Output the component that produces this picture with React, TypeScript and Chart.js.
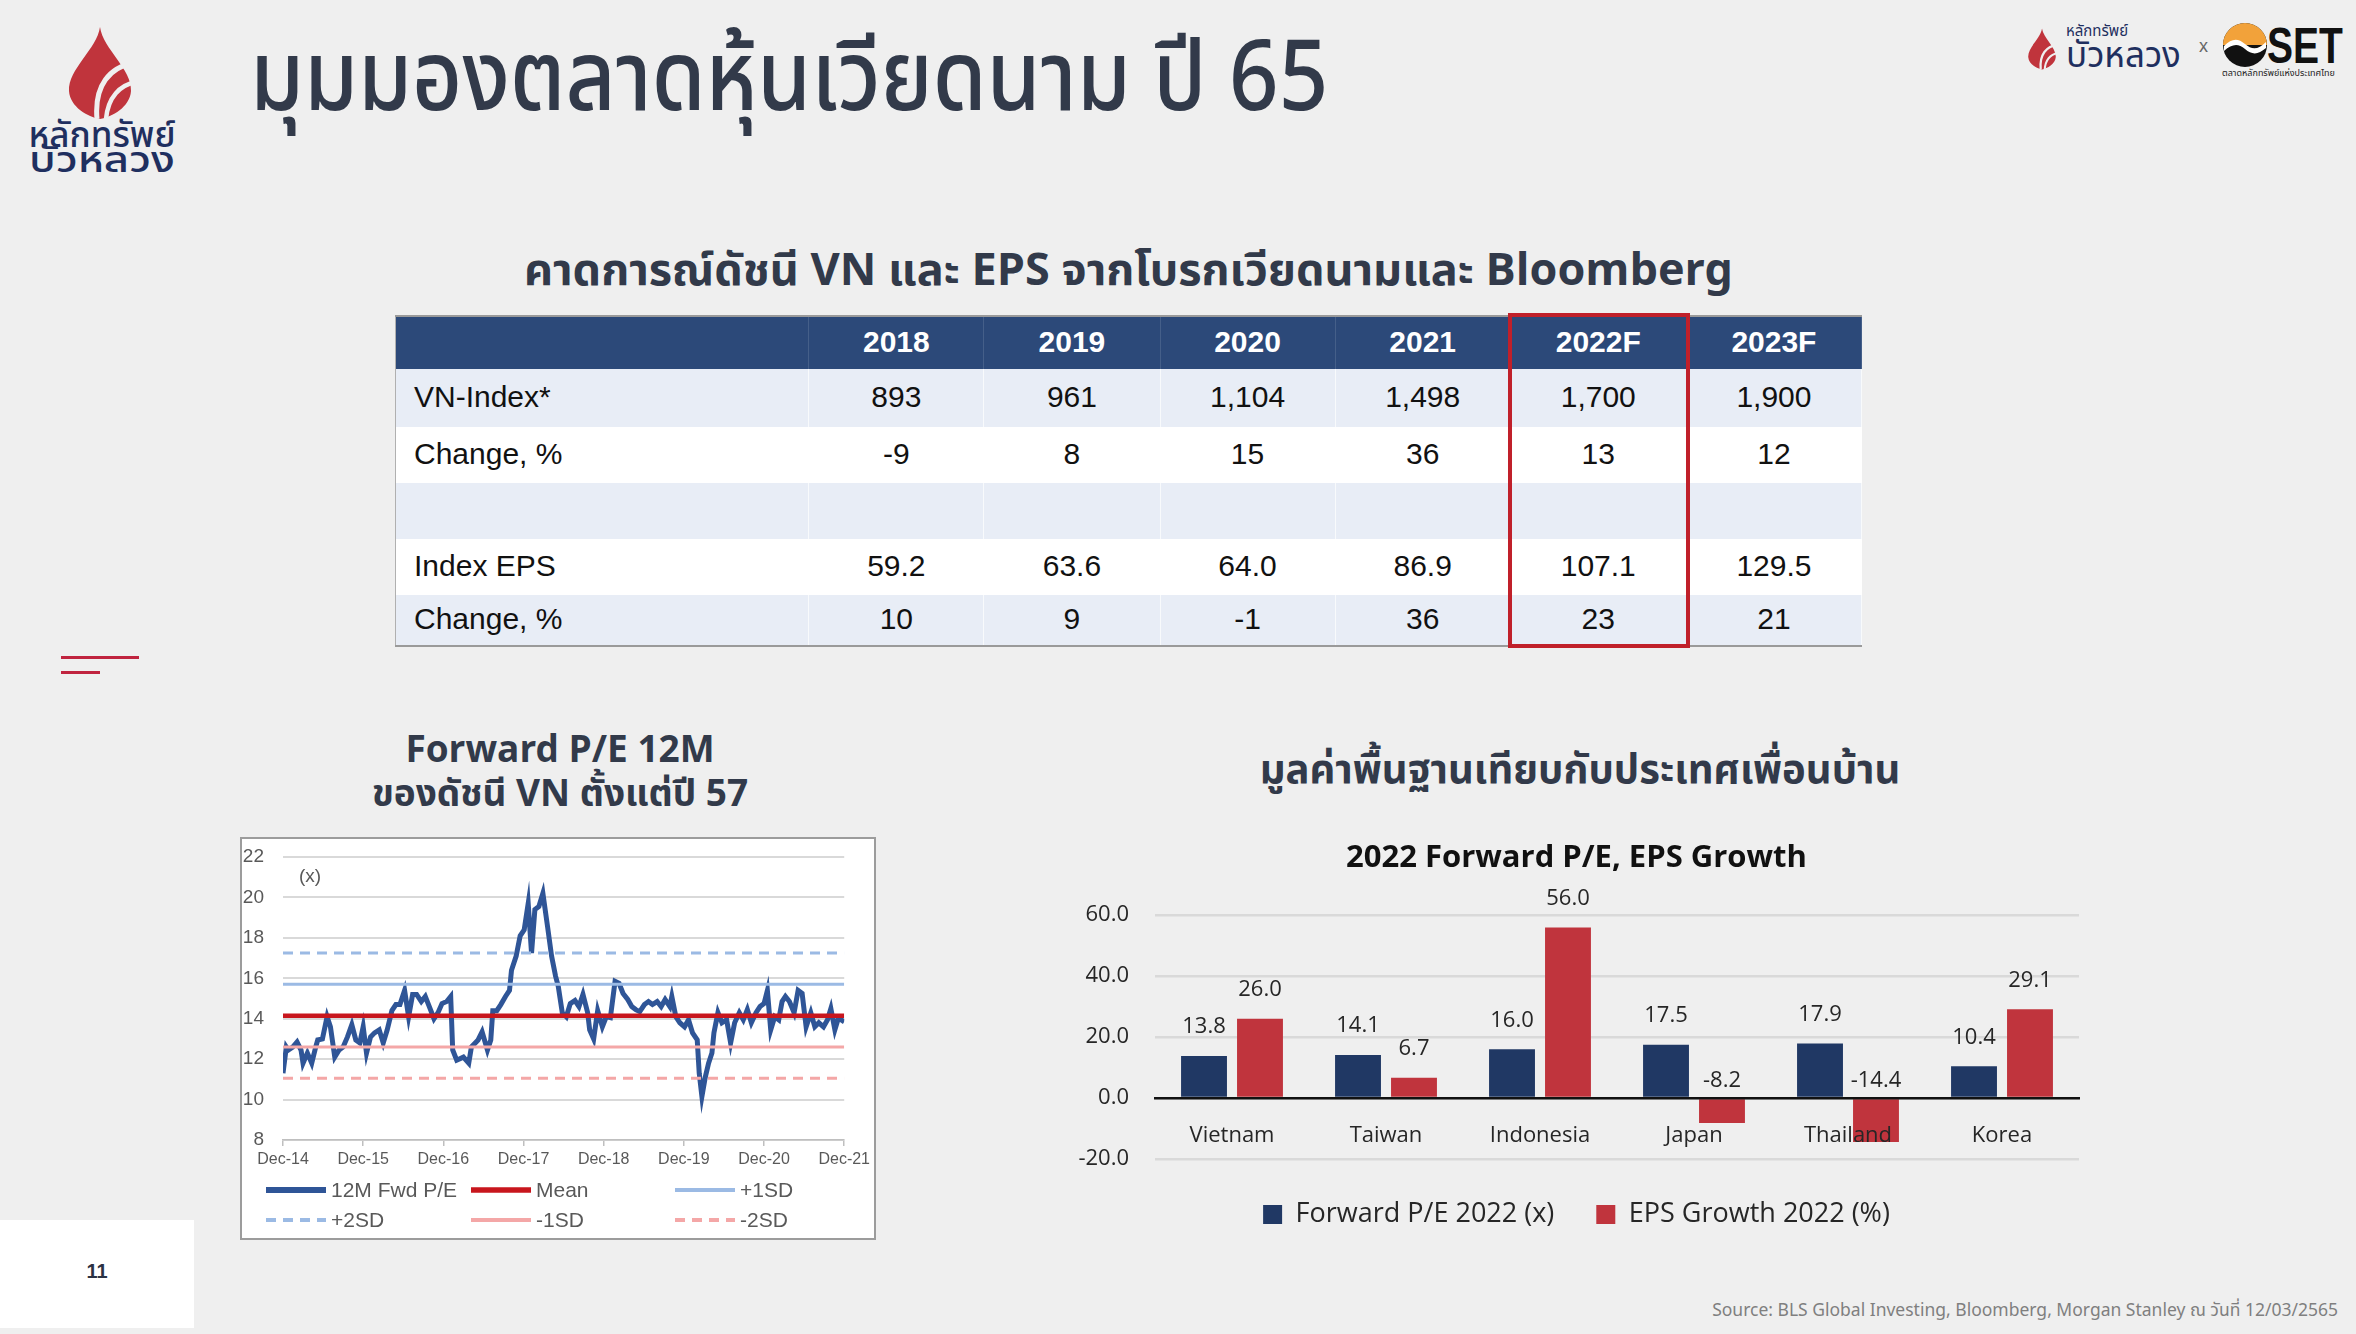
import React, { useEffect, useRef } from "react";
import { Chart, registerables } from "chart.js";

Chart.register(...registerables);

// ---------- Forecast table (VN-Index & EPS) ----------
const tableYears = ["2018", "2019", "2020", "2021", "2022F", "2023F"];
const vnIndex = [893, 961, 1104, 1498, 1700, 1900];
const vnIndexChange = [-9, 8, 15, 36, 13, 12];
const indexEps = [59.2, 63.6, 64.0, 86.9, 107.1, 129.5];
const indexEpsChange = [10, 9, -1, 36, 23, 21];

// ---------- 12M forward P/E of VN-Index (x = months since Dec-14) ----------
const peMonths = [
  0, 0.5, 0.8, 1.45, 2.1, 2.7, 3.0, 3.65, 4.3, 4.9, 5.2, 5.9, 6.6, 7.1, 7.75, 8.4, 9.0, 9.65, 10.3, 10.9,
  11.5, 12.0, 12.5, 13.1, 13.7, 14.4, 15.0, 15.6, 16.3, 16.9, 17.5, 18.2, 18.8, 19.4, 20.0, 20.7, 21.3, 21.9,
  22.6, 23.2, 23.8, 24.5, 25.1, 25.4, 26.0, 27.0, 27.8, 28.2, 29.2, 29.8, 30.6, 31.1, 31.4, 32.0, 32.6, 33.3,
  33.9, 34.2, 34.9, 35.5, 36.1, 36.7, 37.2, 37.7, 38.3, 38.9, 39.6, 40.2, 40.8, 41.2, 41.8, 42.4, 43.0, 43.7,
  44.3, 44.9, 45.6, 45.9, 46.5, 47.1, 47.8, 48.4, 49.0, 49.7, 50.3, 50.9, 51.6, 52.2, 52.8, 53.4, 54.1, 54.7,
  55.3, 56.0, 56.6, 57.2, 57.9, 58.2, 58.8, 59.4, 60.1, 60.7, 61.3, 62.0, 62.3, 62.7, 63.2, 63.7, 64.2, 64.5,
  65.1, 65.7, 66.4, 67.0, 67.6, 68.3, 68.9, 69.5, 70.1, 70.8, 71.4, 72.0, 72.5, 73.0, 73.6, 74.2, 74.7, 75.2,
  75.8, 76.5, 77.1, 77.7, 78.3, 79.0, 79.6, 80.2, 80.9, 81.5, 82.0, 82.6, 83.1, 83.5, 84.0,
];
const peValues = [
  11.3, 12.6, 12.45, 12.6, 12.85, 12.45, 11.8, 12.3, 11.8, 12.6, 12.95, 13.0, 14.1, 13.6, 12.1, 12.45, 12.6, 13.1, 13.7, 12.95,
  12.8, 13.6, 12.3, 13.1, 13.3, 13.45, 12.8, 13.45, 14.4, 14.7, 14.7, 15.4, 14.1, 15.2, 15.2, 14.85, 15.1, 14.6,
  14.0, 14.3, 14.75, 14.85, 15.1, 12.45, 11.95, 12.1, 11.8, 12.6, 12.95, 13.35, 12.45, 12.95, 14.4, 14.4, 14.7, 15.1,
  15.4, 16.4, 17.1, 18.1, 18.4, 19.7, 17.25, 19.4, 19.55, 20.2, 18.55, 17.1, 16.1, 15.6, 14.3, 14.1, 14.75, 14.9,
  14.6, 15.2, 14.3, 13.45, 13.0, 14.4, 13.6, 14.1, 14.05, 15.85, 15.75, 15.25, 14.95, 14.6, 14.45, 14.35, 14.7, 14.85,
  14.7, 14.85, 14.6, 14.95, 14.6, 15.1, 14.1, 13.8, 13.6, 13.95, 13.3, 12.95, 11.3, 10.15, 11.1, 11.8, 12.3, 13.3,
  14.3, 13.8, 13.95, 12.8, 13.8, 14.3, 13.95, 14.45, 13.8, 14.3, 14.6, 14.75, 15.4, 13.45, 14.1, 13.95, 14.85, 15.1,
  14.85, 14.3, 15.4, 15.25, 13.6, 14.3, 13.6, 13.8, 13.6, 13.95, 14.5, 13.45, 14.0, 13.95, 13.85,
];
const peMean = 14.15;
const peStd = 1.55;
const peTickLabels = ["Dec-14", "Dec-15", "Dec-16", "Dec-17", "Dec-18", "Dec-19", "Dec-20", "Dec-21"];

// ---------- 2022 forward P/E and EPS growth by market ----------
const countries = ["Vietnam", "Taiwan", "Indonesia", "Japan", "Thailand", "Korea"];
const forwardPe2022 = [13.8, 14.1, 16.0, 17.5, 17.9, 10.4];
const epsGrowth2022 = [26.0, 6.7, 56.0, -8.2, -14.4, 29.1];

const THAI = '"Noto Sans Thai", "Noto Sans Thai UI", "Kanit", "Sarabun", "Noto Sans", sans-serif';
const ARIAL = '"Liberation Sans", Arial, sans-serif';
const OPEN = '"Open Sans", "Liberation Sans", sans-serif';
const INK = "#323a4a";

function PeChart() {
  const ref = useRef<HTMLCanvasElement>(null);
  useEffect(() => {
    const lastMonth = peTickLabels.length * 12 - 12;
    const flat = (v: number) => [
      { x: 0, y: v },
      { x: lastMonth, y: v },
    ];
    const blue = "#9bbae4";
    const pink = "#f4a7a7";
    const legendPlugin = {
      id: "peLegend",
      afterDraw(chart: any) {
        const c = chart.ctx;
        const { left, top } = chart.chartArea;
        c.save();
        c.font = `19px ${ARIAL}`;
        c.fillStyle = "#595959";
        c.textBaseline = "middle";
        c.textAlign = "left";
        c.fillText("(x)", left + 16, top + 20);
        const cols = [24, 229, 433];
        const rows = [351, 381];
        chart.data.datasets.forEach((ds: any, i: number) => {
          const x0 = cols[i % 3];
          const y0 = rows[Math.floor(i / 3)];
          c.beginPath();
          c.strokeStyle = ds.borderColor;
          c.lineWidth = ds.borderWidth + 1;
          c.setLineDash(ds.borderDash || []);
          c.moveTo(x0, y0);
          c.lineTo(x0 + 60, y0);
          c.stroke();
          c.setLineDash([]);
          c.fillStyle = "#595959";
          c.font = `21px ${ARIAL}`;
          c.fillText(ds.label, x0 + 65, y0 + 1);
        });
        c.restore();
      },
    };
    const chart = new Chart(ref.current!, {
      type: "line",
      data: {
        datasets: [
          {
            label: "12M Fwd P/E",
            data: peMonths.map((m, i) => ({ x: m, y: peValues[i] })),
            borderColor: "#2f5597",
            borderWidth: 5,
            order: 9,
          },
          { label: "Mean", data: flat(peMean), borderColor: "#c8161d", borderWidth: 4.5, order: 1 },
          { label: "+1SD", data: flat(peMean + peStd), borderColor: blue, borderWidth: 3, order: 2 },
          { label: "+2SD", data: flat(peMean + 2 * peStd), borderColor: blue, borderWidth: 3, borderDash: [10, 7], order: 3 },
          { label: "-1SD", data: flat(peMean - peStd), borderColor: pink, borderWidth: 3, order: 4 },
          { label: "-2SD", data: flat(peMean - 2 * peStd), borderColor: pink, borderWidth: 3, borderDash: [10, 7], order: 5 },
        ],
      },
      options: {
        animation: false,
        responsive: false,
        elements: { point: { radius: 0 }, line: { tension: 0 } },
        layout: { padding: { left: 0, right: 29, top: 18, bottom: 0 } },
        plugins: { legend: { display: false }, tooltip: { enabled: false } },
        scales: {
          x: {
            type: "linear",
            min: 0,
            max: lastMonth,
            afterFit: (s: any) => {
              s.height = 98;
            },
            ticks: {
              stepSize: 12,
              autoSkip: false,
              maxRotation: 0,
              padding: 4,
              color: "#595959",
              font: { family: ARIAL, size: 16 },
              callback: (v: any) => peTickLabels[Math.round(Number(v) / 12)] ?? "",
            },
            grid: { drawOnChartArea: false, drawTicks: true, tickLength: 6, color: "#bfbfbf", lineWidth: 1.5 },
            border: { color: "#bfbfbf", width: 1.5 },
          },
          y: {
            min: 8,
            max: 22,
            afterFit: (s: any) => {
              s.width = 41;
              s.paddingTop = 0;
              s.paddingBottom = 0;
            },
            ticks: { stepSize: 2, padding: 19, color: "#595959", font: { family: ARIAL, size: 19 } },
            grid: { color: "#d9d9d9", lineWidth: 2, drawTicks: false },
            border: { display: false },
          },
        },
      },
      plugins: [legendPlugin],
    } as any);
    return () => chart.destroy();
  }, []);
  return <canvas ref={ref} width={632} height={399} style={{ position: "absolute", left: 0, top: 0 }} />;
}

function PeerChart() {
  const ref = useRef<HTMLCanvasElement>(null);
  useEffect(() => {
    const labelPlugin = {
      id: "barValues",
      afterDatasetsDraw(chart: any) {
        const c = chart.ctx;
        const zero = chart.scales.y.getPixelForValue(0);
        c.save();
        c.font = `22px ${OPEN}`;
        c.fillStyle = "#262626";
        c.textAlign = "center";
        c.textBaseline = "middle";
        chart.data.datasets.forEach((ds: any, di: number) => {
          chart.getDatasetMeta(di).data.forEach((el: any, i: number) => {
            const v = ds.data[i];
            const y = v >= 0 ? el.y - 29 : zero - 17;
            c.fillText(v.toFixed(1), el.x, y);
          });
        });
        c.restore();
      },
    };
    const chart = new Chart(ref.current!, {
      type: "bar",
      data: {
        labels: countries,
        datasets: [
          { label: "Forward P/E 2022 (x)", data: forwardPe2022, backgroundColor: "#203864", borderWidth: 0 },
          { label: "EPS Growth 2022 (%)", data: epsGrowth2022, backgroundColor: "#c0343d", borderWidth: 0 },
        ],
      },
      options: {
        animation: false,
        responsive: false,
        categoryPercentage: 0.727,
        barPercentage: 0.82,
        layout: { padding: { left: 9, right: 26, top: 0, bottom: 0 } },
        plugins: {
          tooltip: { enabled: false },
          title: {
            display: true,
            text: "2022 Forward P/E, EPS Growth",
            color: "#111111",
            font: { family: OPEN, size: 31, weight: "bold", lineHeight: 1.2 },
            padding: { top: 20, bottom: 38 },
          },
          legend: {
            position: "bottom",
            labels: {
              boxWidth: 19,
              boxHeight: 19,
              padding: 42,
              color: "#262626",
              font: { family: OPEN, size: 27 },
            },
          },
        },
        scales: {
          x: {
            position: { y: 0 },
            grid: { display: false, drawTicks: false },
            border: { display: true, color: "#111111", width: 2.5, z: 1 },
            ticks: { padding: 24, color: "#262626", font: { family: OPEN, size: 22 }, z: 1 },
          },
          y: {
            min: -20,
            max: 60,
            afterFit: (s: any) => {
              s.width = 81;
              s.paddingTop = 0;
              s.paddingBottom = 0;
            },
            ticks: {
              stepSize: 20,
              padding: 26,
              color: "#262626",
              font: { family: OPEN, size: 22 },
              callback: (v: any) => Number(v).toFixed(1),
            },
            grid: { color: "#d9d9d9", lineWidth: 2.5, drawTicks: false },
            border: { display: false },
          },
        },
      },
      plugins: [labelPlugin],
    } as any);
    return () => chart.destroy();
  }, []);
  return <canvas ref={ref} width={1040} height={418} style={{ position: "absolute", left: 1065, top: 820 }} />;
}

function Flame({ x, y, w, h }: { x: number; y: number; w: number; h: number }) {
  return (
    <svg style={{ position: "absolute", left: x, top: y }} width={w} height={h} viewBox="0 0 72 92">
      <path d="M36 0 C 33 22, 4 42, 5 64 C 6 80, 24 90, 36 92 C 48 90, 66 80, 67 64 C 68 42, 39 22, 36 0 Z" fill="#c0343c" />
      <path d="M70 36 C 46 40, 30 58, 33 92" stroke="#efefef" strokeWidth="5" fill="none" />
      <path d="M72 55 C 56 58, 44 70, 42 92" stroke="#efefef" strokeWidth="4.5" fill="none" />
    </svg>
  );
}

export default function App() {
  useEffect(() => {
    document.body.style.margin = "0";
  }, []);

  const rows = [
    { label: "VN-Index*", values: vnIndex.map((v) => v.toLocaleString("en-US")), bg: "#e8edf6", h: 58 },
    { label: "Change, %", values: vnIndexChange.map(String), bg: "#ffffff", h: 56 },
    { label: "", values: tableYears.map(() => ""), bg: "#e8edf6", h: 56 },
    { label: "Index EPS", values: indexEps.map((v) => v.toFixed(1)), bg: "#ffffff", h: 56 },
    { label: "Change, %", values: indexEpsChange.map(String), bg: "#e8edf6", h: 51 },
  ];
  const colW = [413, 175, 176, 175, 175, 176, 175];

  return (
    <div
      style={{
        position: "absolute",
        left: 0,
        top: 0,
        width: 2356,
        height: 1334,
        background: "#efefef",
        overflow: "hidden",
        fontFamily: ARIAL,
      }}
    >
      {/* brand mark, top left */}
      <Flame x={64} y={27} w={72} h={92} />
      <div style={{ position: "absolute", left: 12, top: 124, width: 180, textAlign: "center", color: "#1f2f5f", fontFamily: THAI, fontSize: 35, lineHeight: "26px", fontWeight: 500 }}>
        หลักทรัพย์
      </div>
      <div
        style={{
          position: "absolute",
          left: 12,
          top: 149,
          width: 180,
          textAlign: "center",
          color: "#1f2f5f",
          fontFamily: THAI,
          fontSize: 35,
          lineHeight: "26px",
          fontWeight: 500,
          transform: "scaleX(1.25)",
        }}
      >
        บัวหลวง
      </div>

      {/* page title */}
      <div
        style={{
          position: "absolute",
          left: 250,
          top: 10,
          fontFamily: THAI,
          fontSize: 98,
          fontWeight: 500,
          color: INK,
          whiteSpace: "nowrap",
          lineHeight: "140px",
          transform: "scaleX(0.885)",
          transformOrigin: "left center",
        }}
      >
        มุมมองตลาดหุ้นเวียดนาม ปี 65
      </div>

      {/* partner marks, top right */}
      <Flame x={2026} y={23} w={32} h={52} />
      <div style={{ position: "absolute", left: 2066, top: 24, color: "#1f2f5f", fontFamily: THAI, whiteSpace: "nowrap" }}>
        <div style={{ fontSize: 15, lineHeight: "16px" }}>หลักทรัพย์</div>
        <div style={{ fontSize: 35, lineHeight: "34px" }}>บัวหลวง</div>
      </div>
      <div style={{ position: "absolute", left: 2199, top: 36, fontSize: 18, color: "#666", fontFamily: ARIAL }}>x</div>
      <svg style={{ position: "absolute", left: 2222, top: 22 }} width={46} height={46} viewBox="0 0 46 46">
        <circle cx="23" cy="23" r="22" fill="#111" />
        <path d="M1 23 A22 22 0 0 1 45 23 Z" fill="#f2a23a" />
        <path d="M2 24 C 10 16, 16 16, 23 22 C 30 28, 36 28, 44 20 L 44 26 C 36 33, 30 33, 23 27 C 16 21, 10 22, 2 29 Z" fill="#ffffff" />
      </svg>
      <div
        style={{
          position: "absolute",
          left: 2267,
          top: 17,
          fontSize: 50,
          lineHeight: "58px",
          fontWeight: 700,
          color: "#111",
          fontFamily: ARIAL,
          transform: "scaleX(0.78)",
          transformOrigin: "left center",
        }}
      >
        SET
      </div>
      <div style={{ position: "absolute", left: 2222, top: 66, width: 120, fontSize: 9, color: "#222", fontFamily: THAI, whiteSpace: "nowrap", overflow: "hidden" }}>
        ตลาดหลักทรัพย์แห่งประเทศไทย
      </div>

      {/* table heading */}
      <div style={{ position: "absolute", left: 395, width: 1467, top: 240, textAlign: "center", fontFamily: THAI, fontSize: 45, fontWeight: 700, color: INK, lineHeight: "62px", whiteSpace: "nowrap" }}>
        คาดการณ์ดัชนี VN และ EPS จากโบรกเวียดนามและ Bloomberg
      </div>

      {/* forecast table */}
      <table
        style={{
          position: "absolute",
          left: 395,
          top: 315,
          borderCollapse: "collapse",
          tableLayout: "fixed",
          width: 1467,
          fontFamily: ARIAL,
          fontSize: 30,
          color: "#111",
          borderTop: "2px solid #9a9a9a",
          borderBottom: "2px solid #9a9a9a",
          borderLeft: "1px solid #b0b0b0",
          borderRight: "1px solid #b0b0b0",
        }}
      >
        <colgroup>
          {colW.map((w, i) => (
            <col key={i} style={{ width: w }} />
          ))}
        </colgroup>
        <tbody>
          <tr style={{ height: 53, background: "#2c4979", color: "#fff", fontWeight: 700 }}>
            <td style={{ padding: 0, borderRight: "1px solid rgba(255,255,255,0.12)" }} />
            {tableYears.map((y) => (
              <td key={y} style={{ padding: "0 0 3px 0", textAlign: "center", borderRight: "1px solid rgba(255,255,255,0.12)" }}>
                {y}
              </td>
            ))}
          </tr>
          {rows.map((r, ri) => (
            <tr key={ri} style={{ height: r.h, background: r.bg }}>
              <td style={{ padding: "0 0 2px 18px", borderRight: "1px solid rgba(255,255,255,0.7)" }}>{r.label}</td>
              {r.values.map((v, ci) => (
                <td key={ci} style={{ padding: "0 0 2px 0", textAlign: "center", borderRight: "1px solid rgba(255,255,255,0.7)" }}>
                  {v}
                </td>
              ))}
            </tr>
          ))}
        </tbody>
      </table>
      <div style={{ position: "absolute", left: 1508, top: 313, width: 182, height: 335, border: "4px solid #c0202a", boxSizing: "border-box" }} />

      {/* side accent */}
      <div style={{ position: "absolute", left: 61, top: 656, width: 78, height: 3, background: "#c0243f" }} />
      <div style={{ position: "absolute", left: 61, top: 671, width: 39, height: 3, background: "#c0243f" }} />

      {/* P/E history */}
      <div style={{ position: "absolute", left: 330, width: 460, top: 729, textAlign: "center", fontFamily: THAI, fontSize: 37, fontWeight: 700, color: INK, lineHeight: "44px", whiteSpace: "nowrap" }}>
        Forward P/E 12M
        <br />
        ของดัชนี VN ตั้งแต่ปี 57
      </div>
      <div style={{ position: "absolute", left: 240, top: 837, width: 636, height: 403, border: "2px solid #9c9c9c", background: "#ffffff", boxSizing: "border-box" }}>
        <PeChart />
      </div>

      {/* peer valuation */}
      <div style={{ position: "absolute", left: 1180, width: 800, top: 741, textAlign: "center", fontFamily: THAI, fontSize: 40, fontWeight: 700, color: INK, lineHeight: "60px", whiteSpace: "nowrap" }}>
        มูลค่าพื้นฐานเทียบกับประเทศเพื่อนบ้าน
      </div>
      <PeerChart />

      {/* footer */}
      <div style={{ position: "absolute", left: 0, top: 1220, width: 194, height: 108, background: "#ffffff" }}>
        <div style={{ position: "absolute", left: 0, width: 194, top: 40, textAlign: "center", fontSize: 20, fontWeight: 700, color: "#2b3243", fontFamily: ARIAL }}>11</div>
      </div>
      <div style={{ position: "absolute", right: 18, top: 1297, fontSize: 17.5, color: "#7f7f7f", fontFamily: THAI, whiteSpace: "nowrap" }}>
        Source: BLS Global Investing, Bloomberg, Morgan Stanley ณ วันที่ 12/03/2565
      </div>
    </div>
  );
}
